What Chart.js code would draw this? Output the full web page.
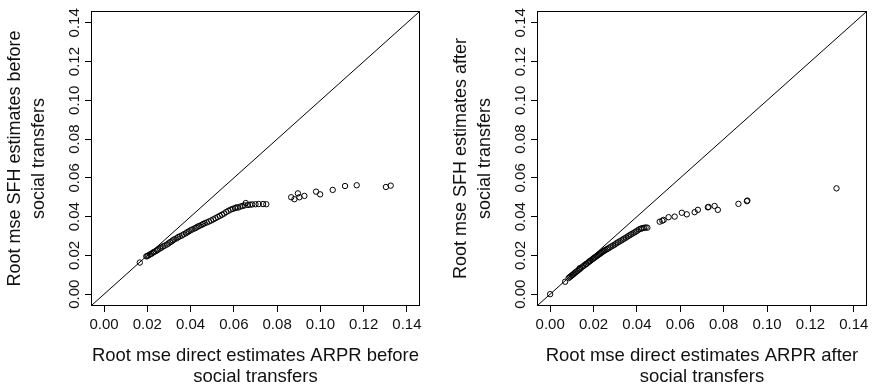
<!DOCTYPE html>
<html>
<head>
<meta charset="utf-8">
<script src="https://cdn.jsdelivr.net/npm/chart.js@4/dist/chart.umd.min.js"></script>
<style>
  html, body { margin: 0; padding: 0; background: #fff; }
  #wrap { position: relative; width: 877px; height: 392px; overflow: hidden; }
  canvas { position: absolute; top: 0; }
</style>
</head>
<body>
<div id="wrap">
  <canvas id="before" width="446" height="392" style="left:0"></canvas>
  <canvas id="after" width="431" height="392" style="left:446px"></canvas>
</div>
<script>
// Shared axis ticks and limits (both axes, both panels)
const tickValues = [0, 0.02, 0.04, 0.06, 0.08, 0.10, 0.12, 0.14];
const axisMin = -0.0056;
const axisMax = 0.1456;

// Root mse per area, before social transfers
const directBefore = [
  0.0165, 0.0195, 0.0200, 0.0205, 0.0212, 0.0218, 0.0225, 0.0230, 0.0238, 0.0245,
  0.0250, 0.0258, 0.0265, 0.0272, 0.0280, 0.0290, 0.0298, 0.0305, 0.0312, 0.0318,
  0.0325, 0.0335, 0.0342, 0.0350, 0.0360, 0.0368, 0.0378, 0.0385, 0.0392, 0.0400,
  0.0408, 0.0418, 0.0425, 0.0432, 0.0440, 0.0450, 0.0458, 0.0465, 0.0475, 0.0485,
  0.0495, 0.0505, 0.0515, 0.0525, 0.0535, 0.0545, 0.0555, 0.0565, 0.0575, 0.0585,
  0.0595, 0.0605, 0.0612, 0.0620, 0.0630, 0.0640, 0.0650, 0.0655, 0.0665, 0.0675,
  0.0685, 0.0700, 0.0715, 0.0735, 0.0750,
  0.0865, 0.0880, 0.0896, 0.0903, 0.0926, 0.0980, 0.0999, 0.1057, 0.1114, 0.1168,
  0.1303, 0.1325
];
const sfhBefore = [
  0.0163, 0.0195, 0.0197, 0.0200, 0.0205, 0.0208, 0.0214, 0.0217, 0.0222, 0.0226,
  0.0231, 0.0236, 0.0240, 0.0246, 0.0250, 0.0256, 0.0262, 0.0268, 0.0272, 0.0278,
  0.0283, 0.0288, 0.0294, 0.0298, 0.0303, 0.0309, 0.0314, 0.0320, 0.0324, 0.0330,
  0.0334, 0.0339, 0.0343, 0.0348, 0.0352, 0.0357, 0.0362, 0.0366, 0.0370, 0.0375,
  0.0380, 0.0386, 0.0392, 0.0398, 0.0404, 0.0410, 0.0416, 0.0424, 0.0430, 0.0436,
  0.0440, 0.0444, 0.0448, 0.0447, 0.0452, 0.0455, 0.0458, 0.0470, 0.0460, 0.0462,
  0.0463, 0.0464, 0.0465, 0.0465, 0.0464,
  0.0500, 0.0490, 0.0520, 0.0500, 0.0507, 0.0529, 0.0515, 0.0538, 0.0558, 0.0562,
  0.0553, 0.0560
];

// Root mse per area, after social transfers
const directAfter = [
  0.0000, 0.0069, 0.0085, 0.0090, 0.0095, 0.0100, 0.0105, 0.0110, 0.0115, 0.0120,
  0.0126, 0.0132, 0.0136, 0.0138, 0.0145, 0.0152, 0.0158, 0.0165, 0.0167, 0.0175,
  0.0180, 0.0185, 0.0190, 0.0196, 0.0200, 0.0205, 0.0210, 0.0215, 0.0220, 0.0225,
  0.0230, 0.0235, 0.0240, 0.0245, 0.0250, 0.0255, 0.0262, 0.0268, 0.0275, 0.0282,
  0.0290, 0.0298, 0.0305, 0.0312, 0.0320, 0.0328, 0.0335, 0.0342, 0.0350, 0.0358,
  0.0365, 0.0372, 0.0380, 0.0388, 0.0395, 0.0402, 0.0410, 0.0418, 0.0425, 0.0432,
  0.0440, 0.0448,
  0.0505, 0.0517, 0.0523, 0.0546, 0.0574, 0.0607, 0.0630, 0.0666, 0.0681, 0.0727,
  0.0730, 0.0758, 0.0773, 0.0868, 0.0907, 0.0909, 0.1320
];
const sfhAfter = [
  0.0000, 0.0064, 0.0083, 0.0088, 0.0092, 0.0097, 0.0101, 0.0106, 0.0111, 0.0115,
  0.0120, 0.0126, 0.0134, 0.0131, 0.0138, 0.0144, 0.0149, 0.0155, 0.0156, 0.0163,
  0.0168, 0.0172, 0.0176, 0.0181, 0.0185, 0.0189, 0.0193, 0.0197, 0.0201, 0.0205,
  0.0209, 0.0213, 0.0217, 0.0221, 0.0225, 0.0228, 0.0232, 0.0236, 0.0241, 0.0246,
  0.0251, 0.0256, 0.0262, 0.0267, 0.0272, 0.0277, 0.0282, 0.0287, 0.0292, 0.0298,
  0.0303, 0.0308, 0.0313, 0.0318, 0.0323, 0.0328, 0.0334, 0.0338, 0.0340, 0.0342,
  0.0344, 0.0343,
  0.0374, 0.0379, 0.0383, 0.0397, 0.0400, 0.0420, 0.0412, 0.0423, 0.0435, 0.0448,
  0.0450, 0.0455, 0.0435, 0.0466, 0.0480, 0.0483, 0.0546
];

// Reference line y = x across the full plotting region
const diagonal = [axisMin, axisMax];

const FONT = '"Liberation Sans", Arial, Helvetica, sans-serif';
const INK = '#111';

// Draws the closed box around the plotting region
const frameBox = {
  id: 'frameBox',
  afterDatasetsDraw(chart) {
    const { ctx, chartArea: a } = chart;
    ctx.save();
    ctx.strokeStyle = '#000';
    ctx.lineWidth = 1;
    const l = Math.floor(a.left) - 0.5, t = Math.floor(a.top) - 0.5;
    const r = Math.floor(a.right) + 0.5, b = Math.floor(a.bottom) + 0.5;
    ctx.strokeRect(l, t, r - l, b - t);
    ctx.restore();
  }
};

function axisOptions(title, isY, yAxisWidth) {
  return {
    type: 'linear',
    min: axisMin,
    max: axisMax,
    afterBuildTicks(scale) {
      scale.ticks = tickValues.map(v => ({ value: v }));
    },
    afterFit(scale) {
      if (isY) scale.width = yAxisWidth; else scale.height = 87;
    },
    border: { display: false },
    grid: {
      display: true,
      drawOnChartArea: false,
      drawTicks: true,
      tickLength: 7,
      tickColor: '#000',
      tickWidth: 1
    },
    ticks: isY ? {
      minRotation: 90,
      maxRotation: 90,
      crossAlign: 'center',
      padding: -4,
      color: INK,
      font: { family: FONT, size: 15 },
      callback: v => v.toFixed(2)
    } : {
      minRotation: 0,
      maxRotation: 0,
      padding: 4,
      color: INK,
      font: { family: FONT, size: 15 },
      callback: v => v.toFixed(2)
    },
    title: {
      display: true,
      text: title,
      color: INK,
      font: isY ? { family: FONT, size: 18, lineHeight: 1.32 }
                : { family: FONT, size: 18.5, lineHeight: 1.17 },
      padding: isY ? { top: 3, bottom: 0 } : { top: 0, bottom: 4 }
    }
  };
}

function drawPanel(id, xs, ys, xTitle, yTitle, rightPad) {
  const pts = xs.map((x, i) => ({ x: x, y: ys[i] }));
  const line = diagonal.map(v => ({ x: v, y: v }));
  return new Chart(document.getElementById(id), {
    type: 'scatter',
    data: {
      datasets: [
        {
          data: line,
          showLine: true,
          borderColor: '#000',
          borderWidth: 1,
          pointRadius: 0,
          fill: false
        },
        {
          data: pts,
          pointStyle: 'circle',
          pointRadius: 2.7,
          borderWidth: 1,
          borderColor: '#000',
          backgroundColor: 'rgba(0,0,0,0)'
        }
      ]
    },
    options: {
      responsive: false,
      animation: false,
      devicePixelRatio: 1,
      events: [],
      layout: { padding: { top: 12, right: rightPad, left: 0, bottom: 0 } },
      plugins: { legend: { display: false }, tooltip: { enabled: false } },
      scales: {
        x: axisOptions(xTitle, false),
        y: axisOptions(yTitle, true, 92)
      }
    },
    plugins: [frameBox]
  });
}

drawPanel('before', directBefore, sfhBefore,
  ['Root mse direct estimates ARPR before', 'social transfers'],
  ['Root mse SFH estimates before', 'social transfers'], 27);
drawPanel('after', directAfter, sfhAfter,
  ['Root mse direct estimates ARPR after', 'social transfers'],
  ['Root mse SFH estimates after', 'social transfers'], 11);
</script>
</body>
</html>
